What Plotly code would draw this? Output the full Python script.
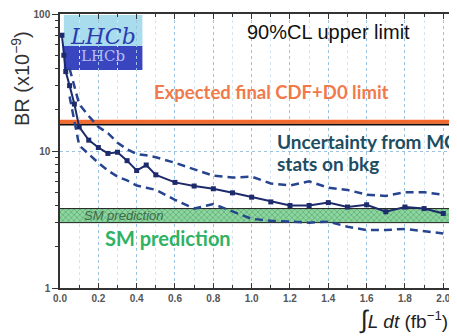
import plotly.graph_objects as go

# Data
lumi = [0.01, 0.02, 0.03, 0.05, 0.075, 0.1, 0.15, 0.2, 0.25, 0.3, 0.35, 0.4, 0.45, 0.5,
        0.6, 0.7, 0.8, 0.9, 1.0, 1.1, 1.2, 1.3, 1.4, 1.5, 1.6, 1.7, 1.8, 1.9, 2.0]
br_median = [70, 50, 38, 30, 22, 15, 12, 10.6, 9.6, 9.8, 8.5, 7.2, 7.9, 6.7,
             5.9, 5.55, 5.3, 4.95, 4.6, 4.25, 4.0, 4.0, 4.2, 3.9, 4.05, 3.6, 3.9, 3.8, 3.5]
lumi_band = [0.05, 0.1, 0.15, 0.2, 0.25, 0.3, 0.35, 0.4, 0.45, 0.5, 0.6, 0.7, 0.8, 0.9,
             1.0, 1.1, 1.2, 1.3, 1.4, 1.5, 1.6, 1.7, 1.8, 1.9, 2.0]
br_upper = [40, 22, 18, 15, 13.5, 11.5, 10.3, 9.5, 9.3, 9.0, 8.2, 7.4, 6.6, 6.4,
            6.5, 5.8, 5.6, 6.0, 5.4, 5.2, 4.8, 4.7, 5.0, 5.0, 4.8]
br_lower = [25, 11, 9.5, 8.2, 7.2, 6.5, 6.1, 5.6, 5.4, 5.2, 4.4, 3.8, 4.1, 3.6,
            3.2, 3.1, 3.05, 3.0, 3.05, 2.8, 2.65, 2.65, 2.7, 2.6, 2.5]
cdf_d0_limit = 16.0
sm_low, sm_high = 3.0, 3.8
x_span = [0, 2.035]

x_ticks = [0.0, 0.2, 0.4, 0.6, 0.8, 1.0, 1.2, 1.4, 1.6, 1.8, 2.0]
x_minor = [0.1, 0.3, 0.5, 0.7, 0.9, 1.1, 1.3, 1.5, 1.7, 1.9]
y_ticks = [1, 10, 100]
y_minor = [2, 3, 4, 5, 6, 7, 8, 9, 20, 30, 40, 50, 60, 70, 80, 90]

fig = go.Figure()

# SM band
fig.add_trace(go.Scatter(x=x_span, y=[sm_low, sm_low], mode="lines",
                         line=dict(color="#222", width=1), showlegend=False))
fig.add_trace(go.Scatter(x=x_span, y=[sm_high, sm_high], mode="lines",
                         line=dict(color="#222", width=1), fill="tonexty",
                         fillcolor="#8fd6a2",
                         fillpattern=dict(shape="x", fgcolor="#3f8f58", bgcolor="#8ed6a0",
                                          size=4, solidity=0.4),
                         showlegend=False))

# CDF+D0 expected limit
fig.add_trace(go.Scatter(x=x_span, y=[cdf_d0_limit * 0.975] * 2, mode="lines",
                         line=dict(color="#111", width=2), showlegend=False))
fig.add_trace(go.Scatter(x=x_span, y=[cdf_d0_limit * 1.02] * 2, mode="lines",
                         line=dict(color="#f26a2e", width=4), showlegend=False))

# Uncertainty band edges
for yy in (br_upper, br_lower):
    fig.add_trace(go.Scatter(x=lumi_band, y=yy, mode="lines",
                             line=dict(color="#27458f", width=2.5, dash="8px,5px"),
                             showlegend=False))

# Median expected limit
fig.add_trace(go.Scatter(x=lumi, y=br_median, mode="lines+markers",
                         line=dict(color="#1d2a6b", width=2),
                         marker=dict(symbol="square", size=5, color="#1d2a6b"),
                         showlegend=False))

tickfont = dict(family="Liberation Sans, Arial", size=10, color="#555")

# page has an 8px body margin: shrink figure and margins accordingly
fig.update_layout(
    width=449, height=328,
    margin=dict(l=52, r=7, t=6, b=48, autoexpand=False),
    paper_bgcolor="white", plot_bgcolor="white",
    xaxis=dict(range=x_span, tickvals=x_ticks, ticktext=[f"<b>{v:.1f}</b>" for v in x_ticks],
               ticks="inside", ticklen=5, tickcolor="#333", mirror="ticks",
               showline=True, linecolor="#333", linewidth=1.5,
               showgrid=True, gridcolor="#9cc3e0", griddash="dot", gridwidth=1,
               minor=dict(tickvals=x_minor, ticks="inside", ticklen=3, tickcolor="#333",
                          showgrid=True, gridcolor="#d4e6f3", griddash="dot"),
               tickfont=tickfont, zeroline=False),
    yaxis=dict(type="log", range=[0, 2], tickvals=y_ticks,
               ticktext=[f"<b>{v}</b>" for v in y_ticks],
               ticks="outside", ticklen=6, tickcolor="#333", mirror="ticks",
               showline=True, linecolor="#333", linewidth=1.5,
               showgrid=True, gridcolor="#9cc3e0", griddash="dot",
               minor=dict(tickvals=y_minor, ticks="outside", ticklen=3, tickcolor="#333",
                          showgrid=False),
               tickfont=tickfont, zeroline=False),
)

# LHCb logo
fig.add_shape(type="rect", xref="x", yref="paper", x0=0.02, x1=0.43, y0=0.883, y1=0.996,
              fillcolor="#a9dcec", line=dict(width=0), layer="below")
fig.add_shape(type="rect", xref="x", yref="paper", x0=0.02, x1=0.43, y0=0.796, y1=0.883,
              fillcolor="#3a46c0", line=dict(width=0), layer="below")


def note(x, y, text, font, xref="x", **kw):
    fig.add_annotation(x=x, y=y, xref=xref, yref="paper", text=text, showarrow=False,
                       yanchor=kw.pop("yanchor", "middle"), xanchor=kw.pop("xanchor", "center"),
                       font=font, **kw)


note(0.225, 0.918, "<i>LHCb</i>", dict(family="DejaVu Serif", size=22, color="#2a3bb0"))
note(0.225, 0.845, "LHCb", dict(family="DejaVu Serif", size=15, color="#b4bdf4"))

# Texts
note(1.40, 0.934, "90%CL upper limit", dict(family="Liberation Sans, Arial", size=20, color="#111"))
note(1.104, 0.715, "<b>Expected final CDF+D0 limit</b>", dict(family="Lato", size=18.5, color="#f07a4a"))
note(1.123, 0.535, "<b>Uncertainty from MC</b>",
     dict(family="Lato", size=19, color="#1d4d62"), xanchor="left")
note(1.123, 0.456, "<b>stats on bkg</b>",
     dict(family="Lato", size=19, color="#1d4d62"), xanchor="left")
note(0.564, 0.182, "<b>SM prediction</b>", dict(family="Lato", size=20, color="#2fb264"))
note(0.329, 0.263, "<i>SM prediction</i>", dict(family="Liberation Sans, Arial", size=13, color="#3d6b4a"))

# Axis titles
note(-0.1026, 0.766, "BR (x10<sup>−9</sup>)", dict(family="Liberation Sans, Arial", size=20, color="#333"),
     xref="paper", textangle=-90)
note(1.0, -0.055, "<span style='font-size:25px'>∫</span><i>L dt</i> (fb<sup>−1</sup>)",
     dict(family="Liberation Sans, Arial", size=19, color="#222"),
     xref="paper", xanchor="right", yanchor="top")

fig.write_html("out.html")
